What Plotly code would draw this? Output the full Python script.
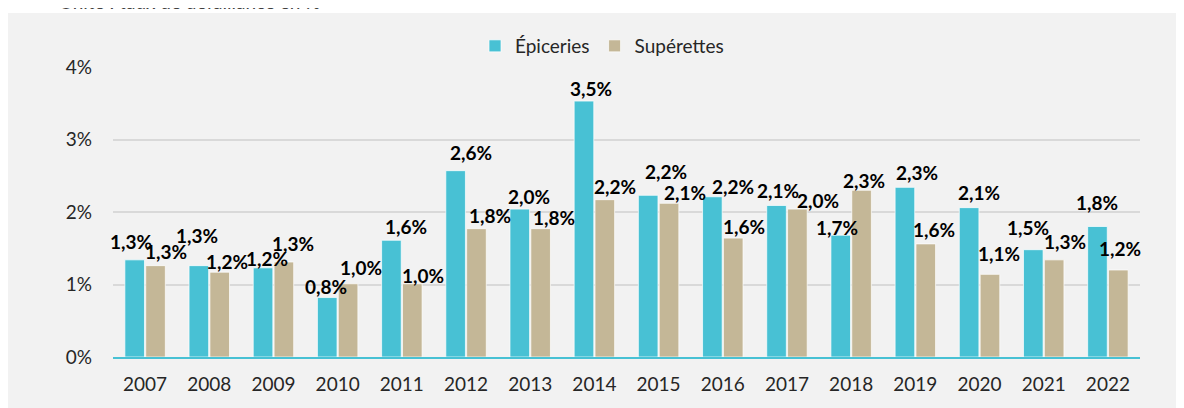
import plotly.graph_objects as go

# ---- data ----
years = ["2007", "2008", "2009", "2010", "2011", "2012", "2013", "2014",
         "2015", "2016", "2017", "2018", "2019", "2020", "2021", "2022"]
epiceries = [1.34, 1.26, 1.23, 0.82, 1.61, 2.57, 2.04, 3.53,
             2.23, 2.21, 2.09, 1.68, 2.34, 2.06, 1.48, 1.80]
superettes = [1.26, 1.17, 1.31, 1.01, 1.01, 1.77, 1.77, 2.17,
              2.12, 1.64, 2.04, 2.30, 1.56, 1.14, 1.34, 1.20]
y_ticks = [0, 1, 2, 3, 4]
y_ticktext = ["0%", "1%", "2%", "3%", "4%"]
series_names = ["Épiceries", "Supérettes"]
subtitle = "Unité : taux de défaillance en %"

# ---- label placement tweaks (pixels, relative to bar centre / bar top) ----
ep_dx = [-3, -1, 5, -1, 15, 16, 10, 8, 18, 21, 2, -3, 13, 10, -5, 0]
ep_dy = [18, 30, 9, 11, 14, 18, 13, 13, 24, 10, 15, 8, 15, 15, 22, 24]
su_dx = [10, 7, 9, 12, 10, 13, 13, 10, 15, 10, 20, 2, 8, 8, 10, 1]
su_dy = [14, 11, 19, 16, 8, 13, 11, 13, 11, 12, 9, 10, 14, 21, 18, 22]

C_EP = "#48C1D4"
C_SU = "#C4B797"
FONT = "Lato"

# page is offset by the browser's 8px body margin
OFF = 8
W, H = 1184 - OFF, 408 - OFF
PL, PR, PT, PB = 113, 1140, 67, 357          # plot area, page pixels
ML, MR, MT, MB = PL - OFF, 1184 - PR, PT - OFF, (OFF + H) - PB
PW, PH = PR - PL, PB - PT


def px_x(p):  # page pixel -> paper fraction
    return (p - PL) / PW


def px_y(p):
    return (PB - p) / PH


def fmt(v):
    return f"{v:.1f}".replace(".", ",") + "%"


fig = go.Figure()
fig.add_trace(go.Bar(x=years, y=epiceries, name=series_names[0],
                     marker=dict(color=C_EP, line=dict(color="rgba(255,255,255,0.7)", width=1))))
fig.add_trace(go.Bar(x=years, y=superettes, name=series_names[1],
                     marker=dict(color=C_SU, line=dict(color="rgba(255,255,255,0.7)", width=1))))

lab_font = dict(family=FONT, size=19, color="#000000", weight="bold")
annotations = []
for i in range(len(years)):
    annotations.append(dict(x=i, y=epiceries[i], xref="x", yref="y", text=fmt(epiceries[i]),
                            showarrow=False, xshift=-11 + ep_dx[i], yshift=ep_dy[i],
                            yanchor="middle", xanchor="center", font=lab_font))
    annotations.append(dict(x=i, y=superettes[i], xref="x", yref="y", text=fmt(superettes[i]),
                            showarrow=False, xshift=11 + su_dx[i], yshift=su_dy[i],
                            yanchor="middle", xanchor="center", font=lab_font))

# partly cut-off subtitle at the very top, as in the source image
annotations.append(dict(x=px_x(57), y=px_y(15), xref="paper", yref="paper", text=subtitle,
                        showarrow=False, xanchor="left", yanchor="bottom",
                        font=dict(family=FONT, size=19, color="#404040")))

fig.update_layout(
    width=W, height=H, autosize=False,
    margin=dict(l=ML, r=MR, t=MT, b=MB, pad=0),
    paper_bgcolor="#FFFFFF",
    plot_bgcolor="rgba(0,0,0,0)",
    barmode="group", bargap=0.35, bargroupgap=0.06,
    font=dict(family=FONT, size=19, color="#262626"),
    showlegend=True,
    legend=dict(orientation="h", x=px_x(602), xanchor="center", y=px_y(46), yanchor="middle",
                bgcolor="rgba(0,0,0,0)", font=dict(family=FONT, size=19, color="#262626"),
                itemclick=False, traceorder="normal"),
    shapes=[dict(type="rect", xref="paper", yref="paper",
                 x0=px_x(6), x1=px_x(1200), y0=px_y(420), y1=px_y(13),
                 fillcolor="#F2F2F2", line=dict(width=0), layer="below")],
    annotations=annotations,
)
fig.update_xaxes(type="category", range=[-0.5, len(years) - 0.5], showgrid=False,
                 showline=True, linecolor=C_EP, linewidth=2, automargin=False,
                 ticks="", ticklabelstandoff=9, tickfont=dict(family=FONT, size=19, color="#262626"))
fig.update_yaxes(range=[0, 4], tickvals=y_ticks, ticktext=y_ticktext, showgrid=True,
                 gridcolor="#D9D9D9", gridwidth=1.5, zeroline=False, showline=False, automargin=False,
                 ticks="", ticklabelstandoff=20, tickfont=dict(family=FONT, size=19, color="#262626"))

fig.write_html("out.html")
